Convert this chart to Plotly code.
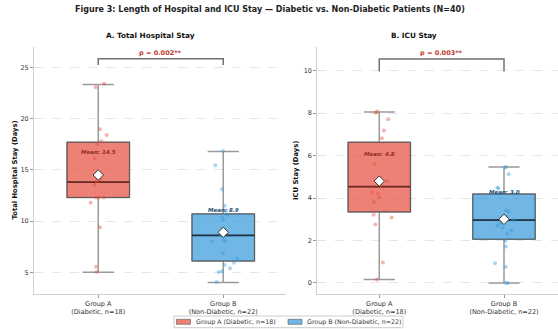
import plotly.graph_objects as go

# ---------------- data ----------------
groups = ["Group A", "Group B"]
group_sub = ["(Diabetic, n=18)", "(Non-Diabetic, n=22)"]
legend_names = ["Group A (Diabetic, n=18)", "Group B (Non-Diabetic, n=22)"]

# Total hospital stay (days) - box statistics
hosp_q1 = [12.3, 6.1]
hosp_median = [13.8, 8.6]
hosp_q3 = [17.7, 10.7]
hosp_low = [5.0, 4.0]
hosp_high = [23.35, 16.8]
hosp_mean = [14.5, 8.9]

# ICU stay (days) - box statistics
icu_q1 = [3.35, 2.06]
icu_median = [4.54, 2.96]
icu_q3 = [6.63, 4.19]
icu_low = [0.16, 0.0]
icu_high = [8.06, 5.46]
icu_mean = [4.8, 3.0]

# individual patient values and horizontal jitter
hosp_a = [23.4, 23.07, 18.96, 18.4, 17.8, 17.5, 16.1, 14.7, 14.1, 13.9, 13.55,
          12.3, 12.3, 12.3, 11.8, 9.4, 5.55, 5.03]
hosp_a_jit = [0.046, -0.021, 0.014, 0.067, 0.024, -0.008, -0.029, 0.01, 0.014, -0.01, -0.029,
              -0.018, 0.003, 0.046, -0.061, 0.014, -0.018, -0.013]
hosp_b = [16.85, 15.45, 13.1, 11.5, 11.0, 10.6, 10.37, 10.1, 9.3, 9.0, 8.6, 8.15,
          8.0, 8.0, 6.86, 6.33, 5.94, 5.7, 5.4, 5.1, 5.03, 4.05]
hosp_b_jit = [0.0, -0.064, -0.01, 0.011, 0.022, 0.03, -0.01, 0.0, -0.01, 0.005, -0.02, 0.0,
              -0.088, 0.016, 0.0, 0.112, 0.086, 0.011, 0.054, -0.01, -0.037, -0.053]
icu_a = [8.02, 8.08, 7.72, 7.18, 6.82, 5.59, 4.85, 4.79, 4.6, 4.25, 4.22, 4.03,
         3.81, 3.21, 3.09, 2.76, 0.96, 0.16]
icu_a_jit = [-0.029, -0.016, 0.072, 0.037, 0.021, -0.037, 0.0, 0.064, 0.01, -0.059, -0.011, 0.003,
             -0.043, -0.045, 0.099, -0.032, 0.029, -0.019]
icu_b = [5.46, 5.44, 5.12, 4.5, 4.45, 3.42, 3.38, 3.1, 3.0, 2.95, 2.9, 2.8, 2.7,
         2.6, 2.49, 2.32, 1.99, 1.72, 0.93, 0.77, 0.0, 0.0]
icu_b_jit = [0.016, 0.008, 0.037, -0.053, -0.045, 0.016, 0.037, 0.02, 0.0, 0.075, -0.02, -0.032, -0.053,
             -0.01, 0.059, 0.027, 0.011, 0.016, -0.072, 0.013, 0.016, 0.032]

p_values = ["0.002**", "0.003**"]
panel_titles = ["A. Total Hospital Stay", "B. ICU Stay"]
y_titles = ["Total Hospital Stay (Days)", "ICU Stay (Days)"]
main_title = "Figure 3: Length of Hospital and ICU Stay \u2014 Diabetic vs. Non-Diabetic Patients (N=40)"

# ---------------- styles ----------------
FONT = "DejaVu Sans"
box_fill = ["rgba(231,76,60,0.7)", "rgba(52,152,219,0.7)"]
point_col = ["rgba(231,76,60,0.42)", "rgba(52,152,219,0.42)"]
median_col = ["#6e2a24", "#1f3446"]
mean_txt_col = ["#922b21", "#1a4f72"]
P_COL = "#c0392b"

W, H = 558, 329
ML, MR, MT, MB = 34, 0, 47, 35
PW, PH = W - ML - MR, H - MT - MB


def px_x(px):
    return (px - ML) / PW


def px_y(py):
    return (H - MB - py) / PH


fig = go.Figure()

panels = [
    dict(xa="x", ya="y", q1=hosp_q1, med=hosp_median, q3=hosp_q3, lo=hosp_low, hi=hosp_high,
         mean=hosp_mean, pts=[hosp_a, hosp_b], jit=[hosp_a_jit, hosp_b_jit], moff=2.2),
    dict(xa="x2", ya="y2", q1=icu_q1, med=icu_median, q3=icu_q3, lo=icu_low, hi=icu_high,
         mean=icu_mean, pts=[icu_a, icu_b], jit=[icu_a_jit, icu_b_jit], moff=1.3),
]

annotations = []
shapes = []

for pi, p in enumerate(panels):
    for g in range(2):
        # whiskers + caps
        fig.add_trace(go.Box(
            x=[g], q1=[p["q1"][g]], median=[p["med"][g]], q3=[p["q3"][g]],
            lowerfence=[p["lo"][g]], upperfence=[p["hi"][g]],
            width=0.5, whiskerwidth=0.5, fillcolor="rgba(0,0,0,0)",
            line=dict(color="#9a9a9a", width=1.5), boxpoints=False,
            xaxis=p["xa"], yaxis=p["ya"], showlegend=False, hoverinfo="skip"))
        # box body
        fig.add_trace(go.Box(
            x=[g], q1=[p["q1"][g]], median=[p["med"][g]], q3=[p["q3"][g]],
            lowerfence=[p["q1"][g]], upperfence=[p["q3"][g]],
            width=0.5, whiskerwidth=0, fillcolor=box_fill[g],
            line=dict(color="#5a5a5a", width=1), boxpoints=False,
            xaxis=p["xa"], yaxis=p["ya"], showlegend=False, hoverinfo="skip"))
        # median line
        fig.add_trace(go.Box(
            x=[g], q1=[p["med"][g]], median=[p["med"][g]], q3=[p["med"][g]],
            lowerfence=[p["med"][g]], upperfence=[p["med"][g]],
            width=0.5, whiskerwidth=0, fillcolor="rgba(0,0,0,0)",
            line=dict(color=median_col[g], width=1.8), boxpoints=False,
            xaxis=p["xa"], yaxis=p["ya"], showlegend=False, hoverinfo="skip"))
        # individual points
        fig.add_trace(go.Scatter(
            x=[g + j for j in p["jit"][g]], y=p["pts"][g], mode="markers",
            marker=dict(color=point_col[g], size=4, line=dict(width=0)),
            xaxis=p["xa"], yaxis=p["ya"], showlegend=False, hoverinfo="skip"))
        # mean marker
        fig.add_trace(go.Scatter(
            x=[g], y=[p["mean"][g]], mode="markers",
            marker=dict(symbol="diamond", color="white", size=8,
                        line=dict(color="#333333", width=1)),
            xaxis=p["xa"], yaxis=p["ya"], showlegend=False, hoverinfo="skip"))
        annotations.append(dict(
            x=g, y=p["mean"][g] + p["moff"], xref=p["xa"], yref=p["ya"],
            xanchor="center", yanchor="middle",
            text=f"<b><i>Mean: {p['mean'][g]:.1f}</i></b>", showarrow=False,
            font=dict(family=FONT, size=5.5, color=mean_txt_col[g])))

    # significance bracket
    top = max(p["hi"]) + 2.5
    bot = max(p["hi"]) + 1.9
    shapes.append(dict(type="path", xref=p["xa"], yref=p["ya"],
                       path=f"M 0,{bot} L 0,{top} L 1,{top} L 1,{bot}",
                       line=dict(color="#707070", width=1.5)))
    annotations.append(dict(x=0.5, y=top, xref=p["xa"], yref=p["ya"], xanchor="center",
                            yanchor="bottom", text=f"<b>p = {p_values[pi]}</b>", showarrow=False,
                            font=dict(family=FONT, size=6.5, color=P_COL)))

# titles
def paper_text(x, y, text, size, color="#111", angle=0, xanchor="center"):
    annotations.append(dict(x=px_x(x), y=px_y(y), xref="paper", yref="paper",
                            xanchor=xanchor, yanchor="middle", textangle=angle,
                            text=text, showarrow=False,
                            font=dict(family=FONT, size=size, color=color)))


paper_text(270, 9, f"<b>{main_title}</b>", 8, "#222")
paper_text(150.7, 36, f"<b>{panel_titles[0]}</b>", 7.3)
paper_text(414.3, 36, f"<b>{panel_titles[1]}</b>", 7.3)
paper_text(14, 170.5, f"<b>{y_titles[0]}</b>", 6.8, angle=-90)
paper_text(295.5, 170.5, f"<b>{y_titles[1]}</b>", 6.8, angle=-90)

# custom legend (frame, colour patches, labels)
shapes.append(dict(type="rect", xref="paper", yref="paper",
                   x0=px_x(174), x1=px_x(403), y0=px_y(316), y1=px_y(327.7),
                   line=dict(color="#cccccc", width=1), fillcolor="white"))
patch_x = [176.5, 288]
text_x = [194.3, 305.3]
for g in range(2):
    shapes.append(dict(type="rect", xref="paper", yref="paper",
                       x0=px_x(patch_x[g]), x1=px_x(patch_x[g] + 14), y0=px_y(319.3), y1=px_y(324.3),
                       line=dict(color="#5a5a5a", width=0.6), fillcolor=box_fill[g]))
    paper_text(text_x[g], 321.8, legend_names[g], 6.3, "#333", xanchor="left")

ticktext = [f"{a}<br>{b}" for a, b in zip(groups, group_sub)]
axis_common = dict(showline=True, linecolor="#cfcfcf", linewidth=1, ticks="outside",
                   ticklen=3, tickcolor="#999", tickfont=dict(family=FONT, size=6.5, color="#333"),
                   zeroline=False)

fig.update_layout(
    width=W, height=H, margin=dict(l=ML, r=MR, t=MT, b=MB, autoexpand=False),
    paper_bgcolor="white", plot_bgcolor="white", boxmode="overlay",
    font=dict(family=FONT), showlegend=False,
    xaxis=dict(domain=[0, px_x(286)], range=[-0.514, 1.502], tickvals=[0, 1], ticktext=ticktext,
               showgrid=False, anchor="y", **axis_common),
    yaxis=dict(range=[2.88, 27.0], tickvals=[5, 10, 15, 20, 25], showgrid=True,
               gridcolor="#e6e6e6", griddash="dash", gridwidth=0.6, anchor="x", **axis_common),
    xaxis2=dict(domain=[px_x(317.3), 1], range=[-0.497, 1.433], tickvals=[0, 1], ticktext=ticktext,
                showgrid=False, anchor="y2", **axis_common),
    yaxis2=dict(range=[-0.52, 11.12], tickvals=[0, 2, 4, 6, 8, 10], showgrid=True,
                gridcolor="#e6e6e6", griddash="dash", gridwidth=0.6, anchor="x2", **axis_common),
    annotations=annotations, shapes=shapes,
)

fig.write_html("out.html", config={"displayModeBar": False},
               post_script="document.body.style.margin='0';document.body.style.overflow='hidden';")
